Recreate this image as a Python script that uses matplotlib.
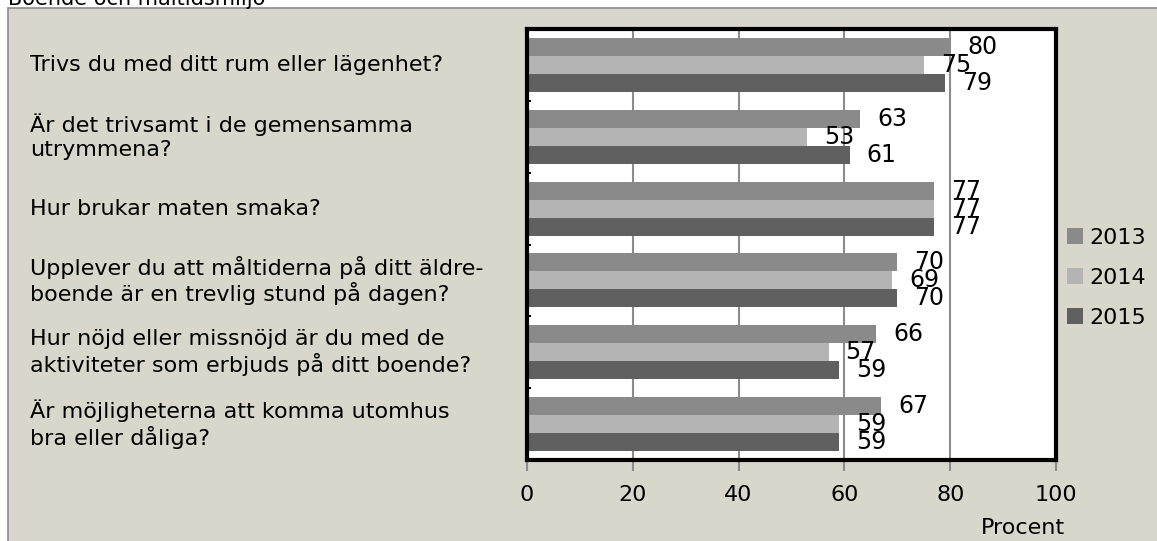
import numpy as np
import matplotlib.pyplot as plt
from matplotlib.patches import Rectangle
import matplotlib.transforms as mtransforms

# data
questions = [
    "Trivs du med ditt rum eller lägenhet?",
    "Är det trivsamt i de gemensamma\nutrymmena?",
    "Hur brukar maten smaka?",
    "Upplever du att måltiderna på ditt äldre-\nboende är en trevlig stund på dagen?",
    "Hur nöjd eller missnöjd är du med de\naktiviteter som erbjuds på ditt boende?",
    "Är möjligheterna att komma utomhus\nbra eller dåliga?",
]
years = ["2013", "2014", "2015"]
v2013 = [80, 63, 77, 70, 66, 67]
v2014 = [75, 53, 77, 69, 57, 59]
v2015 = [79, 61, 77, 70, 59, 59]
colors = ["#8a8a8a", "#b4b4b4", "#606060"]
xticks = [0, 20, 40, 60, 80, 100]

plt.rcParams['font.family'] = ['DejaVu Sans']

W, H = 1157, 541
fig = plt.figure(figsize=(W / 100, H / 100), dpi=100)
fig.patch.set_facecolor("white")

# beige panel behind everything
panel = Rectangle((8 / W, -0.01), 1.0, 1 - 8 / H + 0.01, transform=fig.transFigure,
                  facecolor="#d9d7cb", edgecolor="#8c8c8c", linewidth=1.2, zorder=-10)
fig.patches.append(panel)
fig.text(8 / W, 1 - 5 / H, "Boende och måltidsmiljö", fontsize=15, va="baseline", ha="left")

ax = fig.add_axes([527 / W, 1 - 460 / H, 529 / W, 431 / H])
ax.set_zorder(5)
ax.set_facecolor("white")

y = np.arange(len(questions))
h = 0.25
for i, (vals, c) in enumerate(zip([v2013, v2014, v2015], colors)):
    pos = y + (i - 1) * h
    ax.barh(pos, vals, height=h, color=c, label=years[i], zorder=2)
    for p, v in zip(pos, vals):
        ax.text(v + 3.2, p, str(v), va="center", ha="left", fontsize=17, zorder=3)

ax.set_xlim(0, 100)
ax.set_ylim(len(questions) - 0.5, -0.5)
ax.set_xticks(xticks)
ax.tick_params(axis="x", labelsize=16, color="#8c8c8c", width=1.5, length=8, pad=10)
ax.set_yticks(np.arange(len(questions) + 1) - 0.5)
ax.set_yticklabels([])
ax.tick_params(axis="y", length=3, width=1.5, color="black", direction="in")
for x in xticks[1:-1]:
    ax.axvline(x, color="#8c8c8c", linewidth=1.5, zorder=1)
for s in ax.spines.values():
    s.set_color("black")
    s.set_linewidth(3)

fig.text(1023 / W, 1 - 528 / H, "Procent", ha="center", va="center", fontsize=16)

trans = mtransforms.blended_transform_factory(fig.transFigure, ax.transData)
for q, yy in zip(questions, y):
    ax.text(30 / W, yy, q, transform=trans, ha="left", va="center", fontsize=16,
            linespacing=1.2)

handles, labels = ax.get_legend_handles_labels()
fig.legend(handles, labels, loc="center left", bbox_to_anchor=(1067 / W, 1 - 278 / H),
           frameon=False, fontsize=16, handlelength=0.7, handleheight=0.7,
           handletextpad=0.3, labelspacing=0.9, borderpad=0, borderaxespad=0)

fig.savefig("out.png", dpi=100)
